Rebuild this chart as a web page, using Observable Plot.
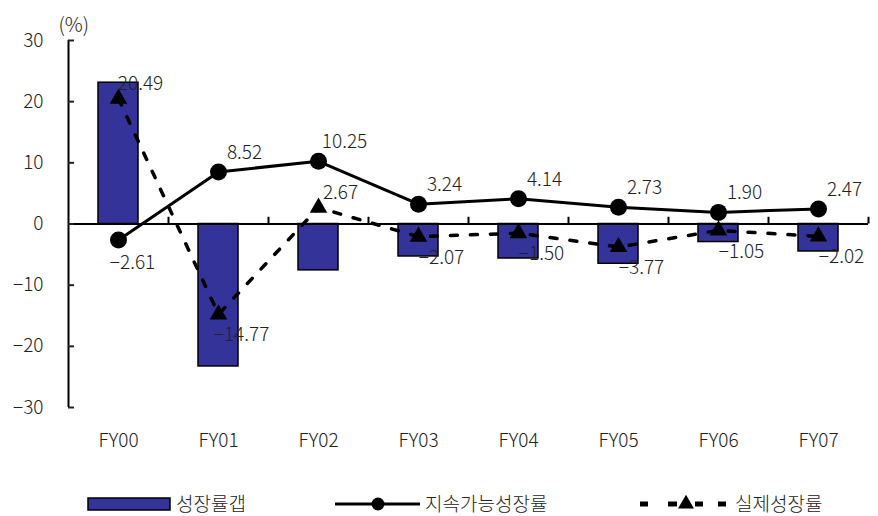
<!DOCTYPE html>
<html>
<head>
<meta charset="utf-8">
<script src="https://cdn.jsdelivr.net/npm/d3@7"></script>
<script src="https://cdn.jsdelivr.net/npm/@observablehq/plot@0.6"></script>
<style>
  html, body { margin: 0; padding: 0; background: #fff; }
  #wrap { position: relative; width: 878px; height: 516px; font-family: "Noto Sans CJK KR", "Noto Sans", sans-serif; font-weight: 300; color: #222; }
  #legend { position: absolute; left: 0; top: 470px; }
  #chart text, #legend text { font-weight: 300; }
</style>
</head>
<body>
<div id="wrap">
  <div id="chart"></div>
  <svg id="legend" width="878" height="46"></svg>
</div>
<script>
// Fiscal years on the x axis
const years = ["FY00", "FY01", "FY02", "FY03", "FY04", "FY05", "FY06", "FY07"];
// 성장률갭 (growth-rate gap, %)
const gapRate = [23.10, -23.29, -7.58, -5.31, -5.64, -6.50, -2.95, -4.49];
// 지속가능성장률 (sustainable growth rate, %)
const sustainableRate = [-2.61, 8.52, 10.25, 3.24, 4.14, 2.73, 1.90, 2.47];
// 실제성장률 (actual growth rate, %)
const actualRate = [20.49, -14.77, 2.67, -2.07, -1.50, -3.77, -1.05, -2.02];
// y-axis ticks
const yTicks = [-30, -20, -10, 0, 10, 20, 30];

const rows = years.map((year, i) => ({
  year,
  gap: gapRate[i],
  sustainable: sustainableRate[i],
  actual: actualRate[i]
}));

const fmt = d3.format(".2f");
const minus = (v) => fmt(v).replace("-", "\u2212");
const labelFont = { fontSize: 19, fill: "#222", style: "letter-spacing:2.5px" };

const chart = Plot.plot({
  width: 878,
  height: 470,
  marginLeft: 68,
  marginRight: 10,
  marginTop: 40,
  marginBottom: 63,
  style: { fontFamily: "'Noto Sans CJK KR', 'Noto Sans', sans-serif", fontSize: "19px", color: "#222", background: "#fff" },
  x: { domain: years, paddingInner: 0.6, paddingOuter: 0.3, label: null },
  y: { domain: [-30, 30], label: null },
  marks: [
    // gap bars
    Plot.barY(rows, { x: "year", y: "gap", fill: "#333399", stroke: "#000", strokeWidth: 1.5 }),
    // y axis line
    Plot.ruleX([years[0]], { dx: -50, y1: -30, y2: 30, stroke: "#000", strokeWidth: 2 }),
    // zero baseline
    Plot.ruleY([0], { stroke: "#000", strokeWidth: 2 }),
    // category separator ticks on the baseline
    Plot.ruleX(rows, { x: "year", dx: 50, y1: 0, y2: 1.1, stroke: "#000", strokeWidth: 2 }),
    Plot.axisY(yTicks, { tickSize: -6, tickPadding: 31, strokeWidth: 2, fontSize: 19, fill: "#222", style: "letter-spacing:1px" }),
    Plot.axisX({ tickSize: 0, tickPadding: 26, fontSize: 19, fill: "#222", label: null, style: "letter-spacing:1.5px" }),
    // actual growth rate: dashed line with triangles
    Plot.line(rows, { x: "year", y: "actual", stroke: "#000", strokeWidth: 3.5, strokeDasharray: "7,13" }),
    // sustainable growth rate: solid line with circles
    Plot.line(rows, { x: "year", y: "sustainable", stroke: "#000", strokeWidth: 3 }),
    Plot.dot(rows, { x: "year", y: "sustainable", r: 8.5, fill: "#000" }),
    Plot.dot(rows, { x: "year", y: "actual", symbol: "triangle", r: 6.5, fill: "#000" }),
    // value labels
    Plot.text(rows.filter(d => d.sustainable >= 0), { x: "year", y: "sustainable", text: d => minus(d.sustainable), dx: 26, dy: -19, ...labelFont }),
    Plot.text(rows.filter(d => d.sustainable < 0), { x: "year", y: "sustainable", text: d => minus(d.sustainable), dx: 14, dy: 23, ...labelFont }),
    Plot.text(rows.filter(d => d.actual >= 0), { x: "year", y: "actual", text: d => minus(d.actual), dx: 22, dy: -15, ...labelFont }),
    Plot.text(rows.filter(d => d.actual < 0), { x: "year", y: "actual", text: d => minus(d.actual), dx: 23, dy: 21, ...labelFont }),
    // unit
    Plot.text(["(%)"], { frameAnchor: "top-left", dx: -10, dy: -23, textAnchor: "start", fontSize: 20, fill: "#222", style: "letter-spacing:1px" })
  ]
});
document.getElementById("chart").appendChild(chart);

// legend
const lg = d3.select("#legend");
const cy = 34;
const items = [
  { label: "성장률갭", tx: 176 },
  { label: "지속가능성장률", tx: 425 },
  { label: "실제성장률", tx: 735 }
];
lg.append("rect").attr("x", 88).attr("y", cy - 6).attr("width", 82).attr("height", 12)
  .attr("fill", "#333399").attr("stroke", "#000").attr("stroke-width", 1.5);
lg.append("line").attr("x1", 335).attr("x2", 420).attr("y1", cy).attr("y2", cy)
  .attr("stroke", "#000").attr("stroke-width", 3);
lg.append("circle").attr("cx", 378).attr("cy", cy).attr("r", 6.5).attr("fill", "#000");
[[640, 648], [668, 677], [695, 703], [718, 726]].forEach(([a, b]) => {
  lg.append("line").attr("x1", a).attr("x2", b).attr("y1", cy).attr("y2", cy)
    .attr("stroke", "#000").attr("stroke-width", 5);
});
lg.append("path").attr("d", d3.symbol(d3.symbolTriangle, 110)()).attr("transform", `translate(686,${cy})`).attr("fill", "#000");
items.forEach(it => {
  lg.append("text").attr("x", it.tx).attr("y", cy).attr("dy", "0.35em")
    .attr("font-size", 19).attr("fill", "#222")
    .attr("font-family", "'Noto Sans CJK KR', sans-serif").text(it.label);
});
</script>
</body>
</html>
